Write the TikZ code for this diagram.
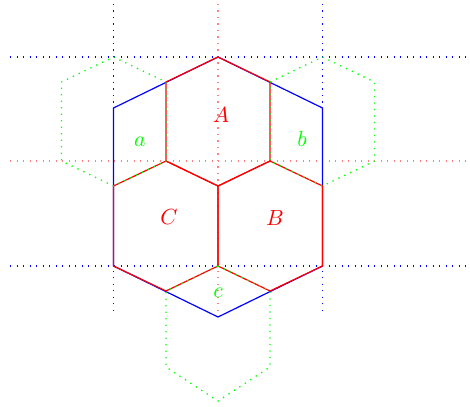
\documentclass[tikz,border=0pt]{standalone}
\begin{document}
\begin{tikzpicture}[x=0.5pt,y=-0.5pt,
  dotline/.style={line width=0.65pt,dash pattern=on 0.65pt off 2.6pt},
  solidline/.style={line width=0.6pt,line join=miter},
  lbl/.style={font=\fontsize{10.5}{12}\selectfont,inner sep=0pt}]
\useasboundingbox (0,0) rectangle (470,406);
% named points
\coordinate (T) at (218,57);
\coordinate (UL) at (113.5,108);
\coordinate (UR) at (322.5,108);
\coordinate (LL) at (113.5,266);
\coordinate (LR) at (322.5,266);
\coordinate (Bo) at (218,317);
\coordinate (P1) at (166,82);
\coordinate (P2) at (270,82);
\coordinate (P3) at (166,161);
\coordinate (P4) at (270,161);
\coordinate (M) at (218,186);
\coordinate (Lm) at (113.5,186);
\coordinate (Rm) at (322.5,186);
\coordinate (Mb) at (218,266);
\coordinate (Q1) at (166,291);
\coordinate (Q2) at (270,291);
\coordinate (Ga1) at (113.5,57);
\coordinate (Ga2) at (61.5,82);
\coordinate (Ga3) at (61.5,161);
\coordinate (Gb1) at (322.5,57);
\coordinate (Gb2) at (374.5,82);
\coordinate (Gb3) at (374.5,161);
\coordinate (Gc1) at (270,367);
\coordinate (Gc2) at (218,401);
\coordinate (Gc3) at (166,367);
% axis end points
\coordinate (hl1) at (10,57);   \coordinate (hr1) at (470,57);
\coordinate (hl2) at (10,266);  \coordinate (hr2) at (470,266);
\coordinate (hl3) at (10,161);  \coordinate (hr3) at (470,161);
\coordinate (vt1) at (113.5,4); \coordinate (vb1) at (113.5,313);
\coordinate (vt2) at (322.5,4); \coordinate (vb2) at (322.5,313);
\coordinate (vt3) at (218,4);   \coordinate (vb3) at (218,313);
% dotted guide lines
\draw[dotline,blue] (hl1) -- (hr1);
\draw[dotline,blue] (hl2) -- (hr2);
\draw[dotline,blue] (vt1) -- (vb1);
\draw[dotline,blue] (vt2) -- (vb2);
\draw[dotline,red!50] (hl3) -- (hr3);
\draw[dotline,red!50] (vt3) -- (vb3);
% big hexagon
\draw[solidline,blue] (T) -- (UR) -- (LR) -- (Bo) -- (LL) -- (UL) -- cycle;
% unit hexagons A, B, C
\draw[solidline,red] (T) -- (P2) -- (P4) -- (M) -- (P3) -- (P1) -- cycle;
\draw[solidline,red] (P4) -- (Rm) -- (LR) -- (Q2) -- (Mb) -- (M) -- cycle;
\draw[solidline,red] (P3) -- (M) -- (Mb) -- (Q1) -- (LL) -- (Lm) -- cycle;
% green dotted hexagons
\draw[dotline,green] (Ga1) -- (P1) -- (P3) -- (Lm) -- (Ga3) -- (Ga2) -- cycle;
\draw[dotline,green] (Gb1) -- (Gb2) -- (Gb3) -- (Rm) -- (P4) -- (P2) -- cycle;
\draw[dotline,green] (Mb) -- (Q2) -- (Gc1) -- (Gc2) -- (Gc3) -- (Q1) -- cycle;
% labels
\node[lbl,text=red] (lA) at (221,115) {$A$};
\node[lbl,text=red] (lB) at (275,218) {$B$};
\node[lbl,text=red] (lC) at (169,217) {$C$};
\node[lbl,text=green] (la) at (140,142) {$a$};
\node[lbl,text=green] (lb) at (302,139) {$b$};
\node[lbl,text=green] (lc) at (218,293) {$c$};
\end{tikzpicture}
\end{document}
